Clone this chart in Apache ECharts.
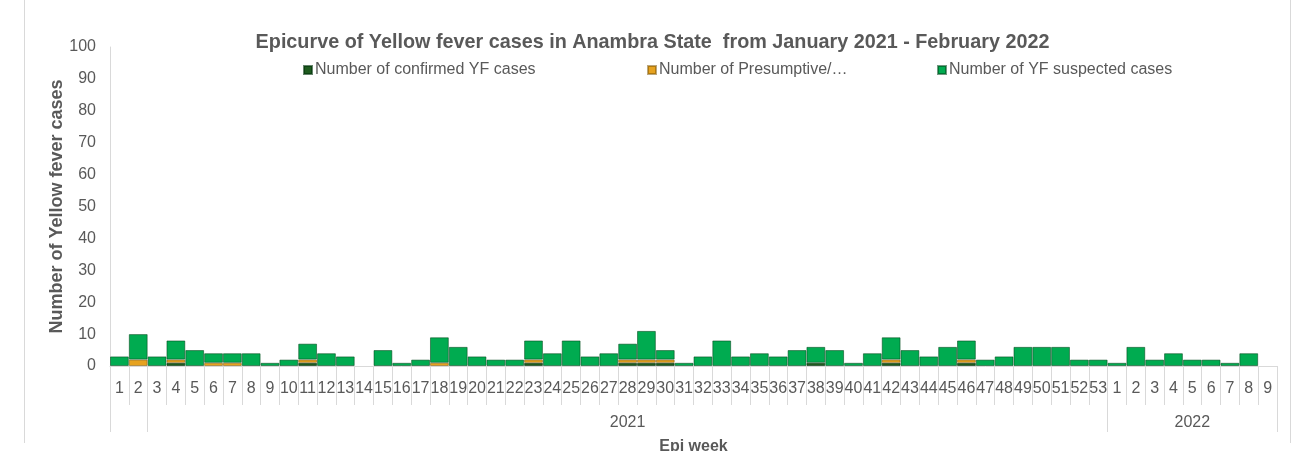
<!DOCTYPE html>
<html>
<head>
<meta charset="utf-8">
<script src="https://cdn.jsdelivr.net/npm/echarts@6/dist/echarts.min.js"></script>
<style>html,body{margin:0;padding:0;background:#fff;}#c{width:1305px;height:451px;}</style>
</head>
<body>
<div id="c"></div>
<script>
const weekLabels = ['1','2','3','4','5','6','7','8','9','10','11','12','13','14','15','16','17','18','19','20','21','22','23','24','25','26','27','28','29','30','31','32','33','34','35','36','37','38','39','40','41','42','43','44','45','46','47','48','49','50','51','52','53','1','2','3','4','5','6','7','8','9'];
const yearLabels = ['2021', '2022'];
const confirmed = [0,0,0,1,0,0,0,0,0,0, 1,0,0,0,0,0,0,0,0,0, 0,0,1,0,0,0,0,1,1,1, 0,0,0,0,0,0,0,1,0,0, 0,1,0,0,0,1,0,0,0,0, 0,0,0, 0,0,0,0,0,0,0,0,0];
const presumptive = [0,2,0,1,0,1,1,0,0,0, 1,0,0,0,0,0,0,1,0,0, 0,0,1,0,0,0,0,1,1,1, 0,0,0,0,0,0,0,0,0,0, 0,1,0,0,0,1,0,0,0,0, 0,0,0, 0,0,0,0,0,0,0,0,0];
const suspected = [3,8,3,6,5,3,3,4,1,2, 5,4,3,0,5,1,2,8,6,3, 2,2,6,4,8,3,4,5,9,3, 1,3,8,3,4,3,5,5,5,1, 4,7,5,3,6,6,2,3,6,6, 6,2,2, 1,6,2,4,2,2,1,4,0];
const seriesNames = ['Number of confirmed YF cases', 'Number of Presumptive/…', 'Number of YF suspected cases'];
const yTicks = {min: 0, max: 100, interval: 10};

const FONT = '"Liberation Sans", Arial, sans-serif';
const TXT = '#595959';
const LINE = '#d9d9d9';
// group boundaries (category indices) for year separators
const groupStarts = [0, 2, 53];
const nz = a => a.map(v => v === 0 ? null : v);

const chart = echarts.init(document.getElementById('c'), null, {renderer: 'canvas'});
chart.setOption({
  backgroundColor: '#fff',
  animation: false,
  textStyle: {fontFamily: FONT},
  title: {
    text: 'Epicurve of Yellow fever cases in Anambra State  from January 2021 - February 2022',
    left: 'center', top: 28,
    textStyle: {fontFamily: FONT, fontSize: 19.8, fontWeight: 'bold', color: TXT}
  },
  legend: [0, 1, 2].map((i) => ({
    data: [seriesNames[i]],
    left: [298, 642, 932][i], top: 57,
    icon: 'rect', itemWidth: 8, itemHeight: 8,
    textStyle: {fontFamily: FONT, fontSize: 16, color: TXT, padding: [0, 0, 0, -2]}
  })),
  graphic: [
    {type: 'line', shape: {x1: 24.5, y1: 0, x2: 24.5, y2: 443}, style: {stroke: LINE, lineWidth: 1}},
    {type: 'line', shape: {x1: 1290.5, y1: 0, x2: 1290.5, y2: 443}, style: {stroke: LINE, lineWidth: 1}}
  ],
  grid: {left: 110, right: 28, top: 47, height: 319, outerBoundsMode: 'none', containLabel: false},
  xAxis: [
    {
      type: 'category', data: weekLabels, position: 'bottom',
      axisLine: {lineStyle: {color: LINE}},
      axisTick: {show: true, interval: 0, length: 39, lineStyle: {color: LINE}},
      axisLabel: {interval: 0, fontSize: 16, color: TXT, margin: 15, fontFamily: FONT},
      name: 'Epi week', nameLocation: 'middle', nameGap: 73, nameMoveOverlap: false,
      nameTextStyle: {fontFamily: FONT, fontSize: 16, fontWeight: 'bold', color: TXT}
    },
    {
      type: 'category', data: weekLabels, position: 'bottom', gridIndex: 0,
      axisLine: {show: false},
      axisTick: {show: true, length: 66, lineStyle: {color: LINE},
        interval: (idx) => groupStarts.indexOf(idx) >= 0},
      axisLabel: {interval: 0, fontSize: 16, color: TXT, margin: 49, fontFamily: FONT,
        formatter: (v, idx) => idx === 27 ? yearLabels[0] : (idx === 57 ? yearLabels[1] : '')}
    }
  ],
  yAxis: {
    type: 'value', min: yTicks.min, max: yTicks.max, interval: yTicks.interval,
    splitLine: {show: false},
    axisLine: {show: true, lineStyle: {color: LINE}},
    axisTick: {show: false},
    axisLabel: {fontSize: 16, color: TXT, margin: 14, fontFamily: FONT},
    name: 'Number of Yellow fever cases', nameLocation: 'middle', nameGap: 44, nameMoveOverlap: false,
    nameTextStyle: {fontFamily: FONT, fontSize: 18, fontWeight: 'bold', color: TXT}
  },
  series: [
    {name: seriesNames[0], type: 'bar', stack: 't', data: nz(confirmed), barWidth: '100%',
     itemStyle: {color: '#1e5b1e', borderColor: 'rgba(0,50,10,0.6)', borderWidth: 1}},
    {name: seriesNames[1], type: 'bar', stack: 't', data: nz(presumptive), barWidth: '100%',
     itemStyle: {color: '#e6a21f', borderColor: 'rgba(120,80,0,0.5)', borderWidth: 1}},
    {name: seriesNames[2], type: 'bar', stack: 't', data: nz(suspected), barWidth: '100%',
     itemStyle: {color: '#00ab50', borderColor: 'rgba(0,70,25,0.55)', borderWidth: 1}}
  ]
});
</script>
</body>
</html>
